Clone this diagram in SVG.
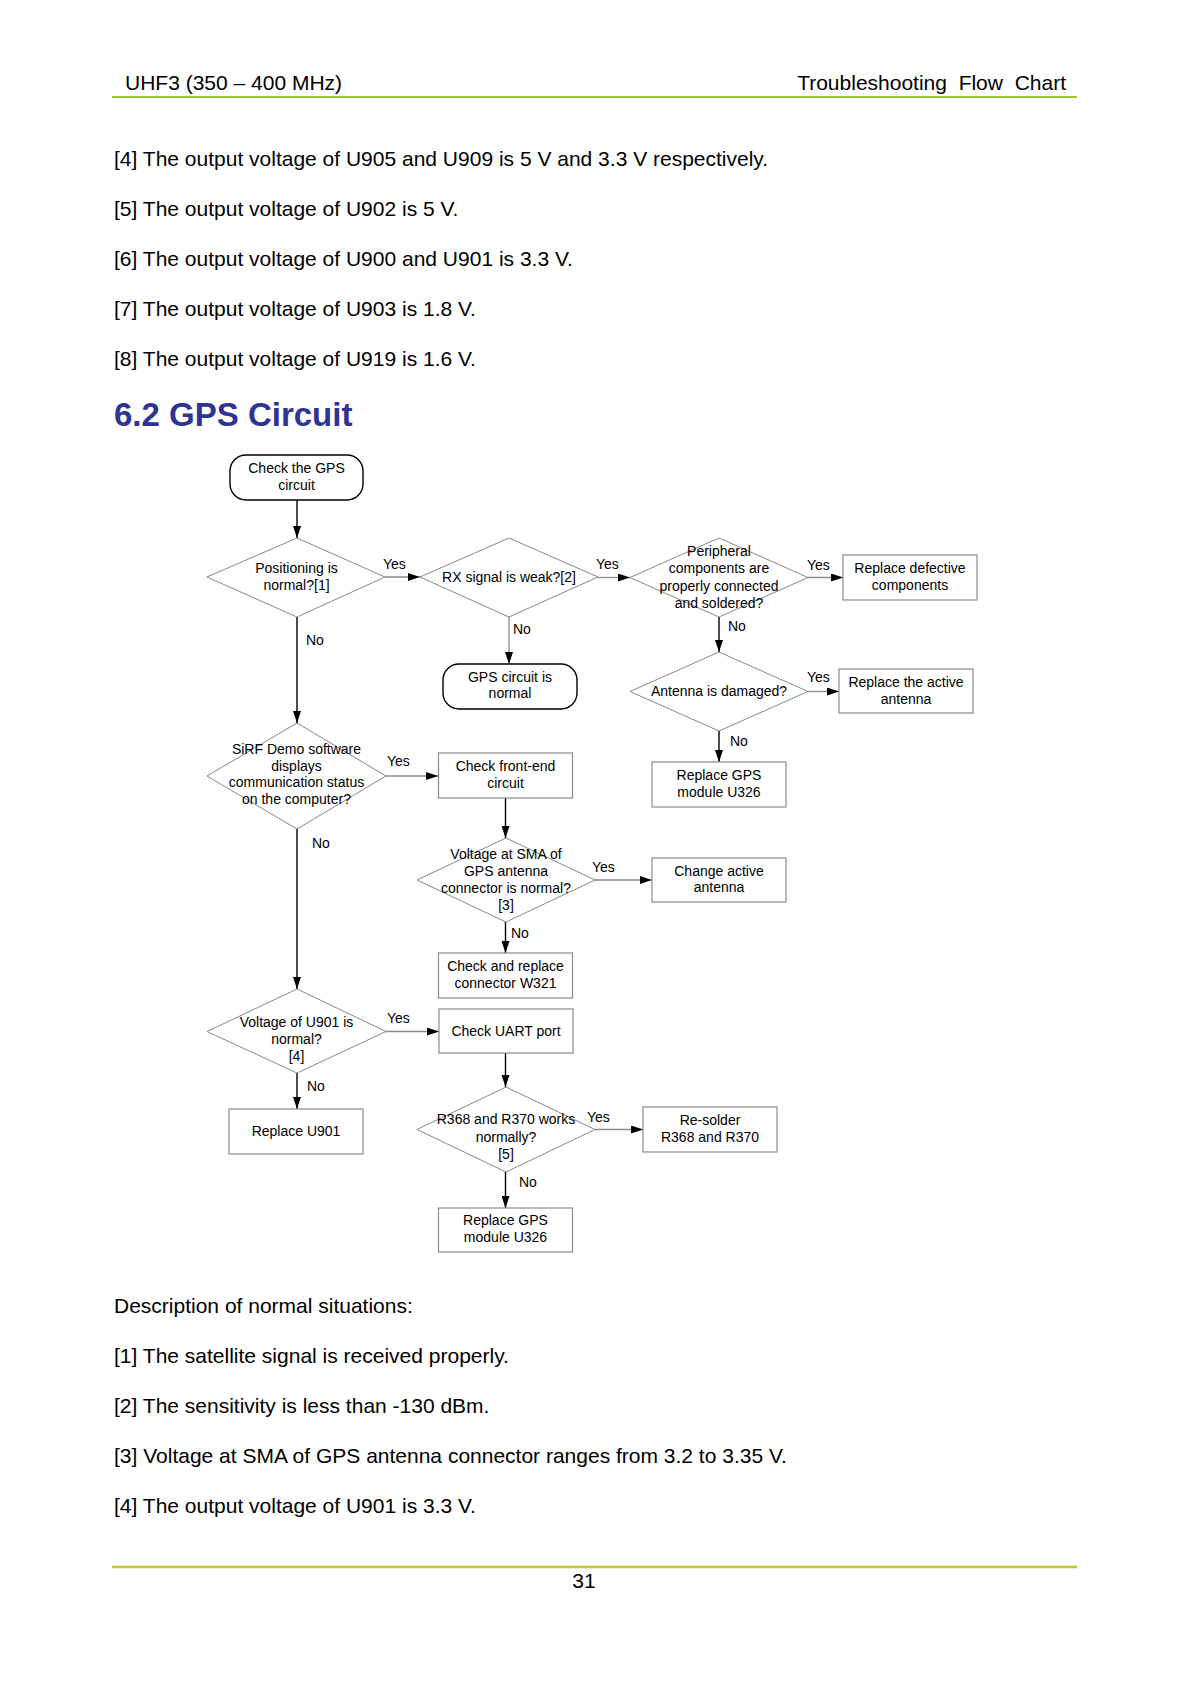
<svg xmlns="http://www.w3.org/2000/svg" width="1191" height="1684" viewBox="0 0 1191 1684">
<defs>
<style>
text{font-family:"Liberation Sans",Arial,sans-serif;fill:#000}
.hd{font-size:21px}
.bd{font-size:21px}
.h2{font-size:33px;font-weight:bold;fill:#2f3393}
.t{font-size:14px;text-anchor:middle}
.l{font-size:14px}
.box{fill:#fff;stroke:#8c8c8c;stroke-width:1.2}
.term{fill:#fff;stroke:#000;stroke-width:1.4}
.dia{fill:#fff;stroke:#7a7a7a;stroke-width:0.9}
.cv{stroke:#000;stroke-width:1.4;fill:none}
.ch{stroke:#8a8a8a;stroke-width:1.3;fill:none}
</style>
<marker id="ah" viewBox="0 0 12 8" refX="12" refY="4" markerWidth="12" markerHeight="8" markerUnits="userSpaceOnUse" orient="auto">
<path d="M0,0 L12,4 L0,8 z" fill="#000"/>
</marker>
</defs>
<rect width="1191" height="1684" fill="#fff"/>

<g id="page">
<text class="hd" x="125" y="90">UHF3 (350 – 400 MHz)</text>
<text class="hd" x="1066" y="90" text-anchor="end" xml:space="preserve">Troubleshooting  Flow  Chart</text>
<line x1="112" y1="97" x2="1077" y2="97" stroke="#9cc63a" stroke-width="2.2"/>
<text class="bd" x="114" y="166">[4] The output voltage of U905 and U909 is 5 V and 3.3 V respectively.</text>
<text class="bd" x="114" y="216">[5] The output voltage of U902 is 5 V.</text>
<text class="bd" x="114" y="266">[6] The output voltage of U900 and U901 is 3.3 V.</text>
<text class="bd" x="114" y="316">[7] The output voltage of U903 is 1.8 V.</text>
<text class="bd" x="114" y="366">[8] The output voltage of U919 is 1.6 V.</text>
<text class="h2" x="114" y="426">6.2 GPS Circuit</text>
<text class="bd" x="114" y="1313">Description of normal situations:</text>
<text class="bd" x="114" y="1363">[1] The satellite signal is received properly.</text>
<text class="bd" x="114" y="1413">[2] The sensitivity is less than -130 dBm.</text>
<text class="bd" x="114" y="1463">[3] Voltage at SMA of GPS antenna connector ranges from 3.2 to 3.35 V.</text>
<text class="bd" x="114" y="1513">[4] The output voltage of U901 is 3.3 V.</text>
<line x1="112" y1="1567" x2="1077" y2="1567" stroke="#bccb2e" stroke-width="2.4"/>
<text class="bd" x="584" y="1588" text-anchor="middle">31</text>
</g>

<g id="connectors">
<line class="cv" x1="297" y1="500" x2="297" y2="538" marker-end="url(#ah)"/>
<line class="ch" x1="385" y1="577" x2="420" y2="577" marker-end="url(#ah)"/>
<line class="ch" x1="509" y1="617" x2="509" y2="664" marker-end="url(#ah)"/>
<line class="ch" x1="598" y1="577.5" x2="630" y2="577.5" marker-end="url(#ah)"/>
<line class="ch" x1="808" y1="577.5" x2="843" y2="577.5" marker-end="url(#ah)"/>
<line class="cv" x1="719" y1="617" x2="719" y2="652" marker-end="url(#ah)"/>
<line class="ch" x1="808" y1="691.5" x2="839" y2="691.5" marker-end="url(#ah)"/>
<line class="cv" x1="719" y1="731" x2="719" y2="762" marker-end="url(#ah)"/>
<line class="cv" x1="297" y1="617" x2="297" y2="723" marker-end="url(#ah)"/>
<line class="ch" x1="386" y1="776" x2="438" y2="776" marker-end="url(#ah)"/>
<line class="cv" x1="505.5" y1="798" x2="505.5" y2="838" marker-end="url(#ah)"/>
<line class="ch" x1="595" y1="880" x2="652" y2="880" marker-end="url(#ah)"/>
<line class="cv" x1="505.5" y1="922" x2="505.5" y2="953" marker-end="url(#ah)"/>
<line class="cv" x1="297" y1="829" x2="297" y2="989" marker-end="url(#ah)"/>
<line class="ch" x1="386" y1="1031.5" x2="439" y2="1031.5" marker-end="url(#ah)"/>
<line class="cv" x1="297" y1="1073" x2="297" y2="1109" marker-end="url(#ah)"/>
<line class="cv" x1="505.5" y1="1053" x2="505.5" y2="1087" marker-end="url(#ah)"/>
<line class="ch" x1="595" y1="1129.5" x2="643" y2="1129.5" marker-end="url(#ah)"/>
<line class="cv" x1="505.5" y1="1172" x2="505.5" y2="1208" marker-end="url(#ah)"/>
<text class="l" x="383" y="569">Yes</text>
<text class="l" x="306" y="645">No</text>
<text class="l" x="596" y="569">Yes</text>
<text class="l" x="513" y="634">No</text>
<text class="l" x="807" y="570">Yes</text>
<text class="l" x="728" y="631">No</text>
<text class="l" x="807" y="682">Yes</text>
<text class="l" x="730" y="746">No</text>
<text class="l" x="387" y="766">Yes</text>
<text class="l" x="312" y="848">No</text>
<text class="l" x="592" y="872">Yes</text>
<text class="l" x="511" y="938">No</text>
<text class="l" x="387" y="1023">Yes</text>
<text class="l" x="307" y="1091">No</text>
<text class="l" x="587" y="1122">Yes</text>
<text class="l" x="519" y="1187">No</text>
</g>

<g id="start">
<rect class="term" x="230" y="455" width="133" height="45" rx="16"/>
<text class="t" x="296.5" y="473">Check the GPS</text>
<text class="t" x="296.5" y="490">circuit</text>
</g>

<g id="d_positioning">
<polygon class="dia" points="297,538 385,577 297,617 207,577"/>
<text class="t" x="296.5" y="573">Positioning is</text>
<text class="t" x="296.5" y="590">normal?[1]</text>
</g>

<g id="d_rx">
<polygon class="dia" points="509,538 598,577 509,617 420,577"/>
<text class="t" x="509" y="582">RX signal is weak?[2]</text>
</g>

<g id="gps_normal">
<rect class="term" x="443" y="664" width="134" height="45" rx="16"/>
<text class="t" x="510" y="682">GPS circuit is</text>
<text class="t" x="510" y="698">normal</text>
</g>

<g id="d_peripheral">
<polygon class="dia" points="719,538 808,577.5 719,617 630,577.5"/>
<text class="t" x="719" y="556">Peripheral</text>
<text class="t" x="719" y="573">components are</text>
<text class="t" x="719" y="590.5">properly connected</text>
<text class="t" x="719" y="608">and soldered?</text>
</g>

<g id="replace_defective">
<rect class="box" x="843" y="555" width="134" height="45"/>
<text class="t" x="910" y="573">Replace defective</text>
<text class="t" x="910" y="590">components</text>
</g>

<g id="d_antenna">
<polygon class="dia" points="719,652 808,691.5 719,731 630,691.5"/>
<text class="t" x="719" y="696">Antenna is damaged?</text>
</g>

<g id="replace_antenna">
<rect class="box" x="839" y="669" width="134" height="44"/>
<text class="t" x="906" y="687">Replace the active</text>
<text class="t" x="906" y="703.5">antenna</text>
</g>

<g id="replace_gps_1">
<rect class="box" x="652" y="762" width="134" height="45"/>
<text class="t" x="719" y="780">Replace GPS</text>
<text class="t" x="719" y="797">module U326</text>
</g>

<g id="d_sirf">
<polygon class="dia" points="297,723 386,776 297,829 207,776"/>
<text class="t" x="296.5" y="754">SiRF Demo software</text>
<text class="t" x="296.5" y="771">displays</text>
<text class="t" x="296.5" y="787">communication status</text>
<text class="t" x="296.5" y="804">on the computer?</text>
</g>

<g id="check_frontend">
<rect class="box" x="438.5" y="753" width="134" height="45"/>
<text class="t" x="505.5" y="771">Check front-end</text>
<text class="t" x="505.5" y="788">circuit</text>
</g>

<g id="d_sma">
<polygon class="dia" points="506,838 595,880 506,922 417,880"/>
<text class="t" x="506" y="859">Voltage at SMA of</text>
<text class="t" x="506" y="876">GPS antenna</text>
<text class="t" x="506" y="892.5">connector is normal?</text>
<text class="t" x="506" y="909.5">[3]</text>
</g>

<g id="change_antenna">
<rect class="box" x="652" y="858" width="134" height="44"/>
<text class="t" x="719" y="876">Change active</text>
<text class="t" x="719" y="892">antenna</text>
</g>

<g id="check_w321">
<rect class="box" x="438.5" y="953" width="134" height="45"/>
<text class="t" x="505.5" y="971">Check and replace</text>
<text class="t" x="505.5" y="988">connector W321</text>
</g>

<g id="d_u901">
<polygon class="dia" points="297,989 386,1031.5 297,1073 207,1031.5"/>
<text class="t" x="296.5" y="1027">Voltage of U901 is</text>
<text class="t" x="296.5" y="1044">normal?</text>
<text class="t" x="296.5" y="1061">[4]</text>
</g>

<g id="check_uart">
<rect class="box" x="439" y="1009" width="134" height="44"/>
<text class="t" x="506" y="1036">Check UART port</text>
</g>

<g id="replace_u901">
<rect class="box" x="229" y="1109" width="134" height="45"/>
<text class="t" x="296" y="1136">Replace U901</text>
</g>

<g id="d_r368">
<polygon class="dia" points="506,1087 595,1129.5 506,1172 417,1129.5"/>
<text class="t" x="506" y="1124">R368 and R370 works</text>
<text class="t" x="506" y="1142">normally?</text>
<text class="t" x="506" y="1159">[5]</text>
</g>

<g id="resolder">
<rect class="box" x="643" y="1107" width="134" height="45"/>
<text class="t" x="710" y="1125">Re-solder</text>
<text class="t" x="710" y="1142">R368 and R370</text>
</g>

<g id="replace_gps_2">
<rect class="box" x="438.5" y="1208" width="134" height="44"/>
<text class="t" x="505.5" y="1225">Replace GPS</text>
<text class="t" x="505.5" y="1242">module U326</text>
</g>
</svg>
